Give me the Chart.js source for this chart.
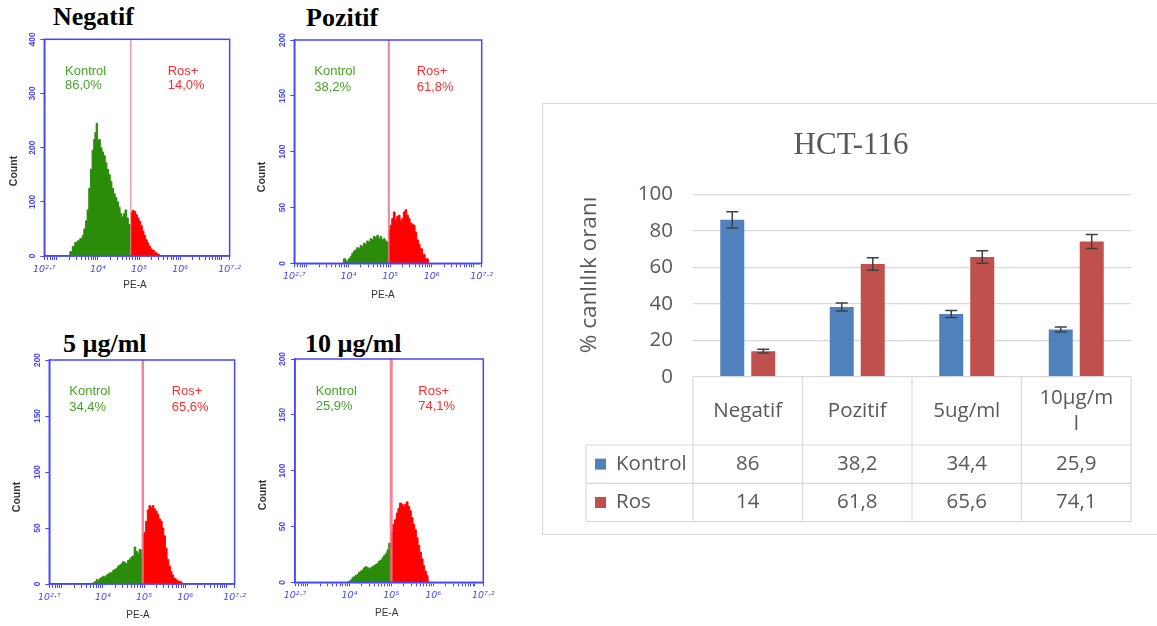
<!DOCTYPE html>
<html>
<head>
<meta charset="utf-8">
<script src="https://cdn.jsdelivr.net/npm/chart.js@4.4.1/dist/chart.umd.min.js"></script>
<style>
  body { margin: 0; background: #fff; width: 1157px; height: 626px; position: relative; overflow: hidden; }
  canvas { position: absolute; }
  .title { position: absolute; font: bold 26px "Liberation Serif", serif; line-height: 26px; color: #000; white-space: nowrap; }
  #panel { position: absolute; left: 542px; top: 103px; width: 700px; height: 432px; border: 1.5px solid #d9d9d9; box-sizing: border-box; }
</style>
</head>
<body>
<div class="title" style="left:53px;top:4px">Negatif</div>
<div class="title" style="left:306px;top:5px">Pozitif</div>
<div class="title" style="left:63px;top:331px">5 µg/ml</div>
<div class="title" style="left:305px;top:331px">10 µg/ml</div>
<div id="panel"></div>
<canvas id="h0"></canvas>
<canvas id="h1"></canvas>
<canvas id="h2"></canvas>
<canvas id="h3"></canvas>
<canvas id="bars"></canvas>
<script>
// ---- bar chart + table data ----
const categories = ['Negatif', 'Pozitif', '5ug/ml', ['10µg/m', 'l']];
const kontrolValues = [86, 38.2, 34.4, 25.9];
const rosValues = [14, 61.8, 65.6, 74.1];
const kontrolErrors = [4.5, 2.2, 1.9, 1.4];
const rosErrors = [1.0, 3.4, 3.4, 3.8];
const yTickValues = [0, 20, 40, 60, 80, 100];

// ---- flow histogram data ----
const panelNames = ['Negatif', 'Pozitif', '5 µg/ml', '10 µg/ml'];
const kontrolPercents = ['86,0%', '38,2%', '34,4%', '25,9%'];
const rosPercents = ['14,0%', '61,8%', '65,6%', '74,1%'];
const gateLogs = [4.8, 4.97, 4.97, 5.0];
const countMax = [400, 200, 200, 200];
const logLabelValues = [2.7, 4, 5, 6, 7.2];

// [log10 PE-A, count]
const negKontrol = [[3.28,0],[3.32,8],[3.38,18],[3.44,25],[3.50,28],[3.56,32],[3.62,38],[3.66,50],[3.70,65],[3.74,85],[3.78,125],[3.82,160],[3.86,195],[3.90,215],[3.93,228],[3.96,245],[3.99,212],[4.02,215],[4.06,200],[4.10,192],[4.14,185],[4.18,172],[4.22,160],[4.26,150],[4.30,138],[4.34,125],[4.38,115],[4.42,108],[4.46,100],[4.50,90],[4.54,78],[4.58,72],[4.62,78],[4.66,85],[4.70,70],[4.74,58],[4.78,52],[4.80,50]];
const negRos = [[4.80,80],[4.84,84],[4.88,82],[4.92,76],[4.96,70],[5.00,64],[5.04,56],[5.08,46],[5.12,38],[5.16,30],[5.20,24],[5.24,18],[5.28,13],[5.32,10],[5.38,6],[5.44,3],[5.50,0]];
const posKontrol = [[3.86,0],[3.88,4],[3.94,2],[4.00,4],[4.04,6],[4.08,9],[4.12,11],[4.16,12],[4.20,14],[4.24,13],[4.28,16],[4.32,15],[4.36,18],[4.40,17],[4.44,20],[4.48,19],[4.52,22],[4.56,21],[4.60,24],[4.64,23],[4.68,25],[4.72,22],[4.76,24],[4.80,21],[4.84,22],[4.88,20],[4.92,19],[4.97,18]];
const posRos = [[4.97,30],[5.00,34],[5.04,40],[5.08,46],[5.12,38],[5.16,42],[5.20,43],[5.24,38],[5.28,40],[5.32,46],[5.36,48],[5.40,43],[5.44,40],[5.48,36],[5.52,35],[5.56,34],[5.60,28],[5.64,21],[5.68,17],[5.72,13],[5.78,8],[5.84,4],[5.92,0]];
const fiveKontrol = [[3.70,0],[3.74,1],[3.80,2],[3.84,4],[3.88,3],[3.92,5],[3.96,6],[4.00,7],[4.04,6],[4.08,8],[4.12,9],[4.16,10],[4.20,10],[4.24,12],[4.28,13],[4.32,14],[4.36,16],[4.40,17],[4.44,18],[4.48,20],[4.52,19],[4.56,18],[4.60,21],[4.64,22],[4.68,24],[4.72,25],[4.76,33],[4.80,29],[4.84,27],[4.88,31],[4.92,30],[4.97,32]];
const fiveRos = [[4.97,44],[5.00,46],[5.04,56],[5.08,66],[5.12,70],[5.16,68],[5.20,70],[5.24,67],[5.28,65],[5.32,62],[5.36,58],[5.40,56],[5.44,50],[5.48,43],[5.52,32],[5.56,22],[5.60,16],[5.64,11],[5.68,8],[5.72,5],[5.78,3],[5.84,2],[5.92,0]];
const tenKontrol = [[3.95,0],[3.98,1],[4.02,2],[4.06,4],[4.10,5],[4.14,6],[4.18,7],[4.22,9],[4.26,10],[4.30,11],[4.34,13],[4.38,14],[4.42,13],[4.46,12],[4.50,13],[4.54,14],[4.58,15],[4.62,16],[4.66,17],[4.70,19],[4.74,20],[4.78,22],[4.82,24],[4.86,26],[4.90,29],[4.94,35],[5.00,30]];
const tenRos = [[5.00,45],[5.04,52],[5.08,56],[5.12,62],[5.16,66],[5.20,71],[5.24,70],[5.28,68],[5.32,70],[5.36,72],[5.40,68],[5.44,64],[5.48,58],[5.52,52],[5.56,47],[5.60,40],[5.64,33],[5.68,27],[5.72,21],[5.76,15],[5.80,10],[5.84,6],[5.88,1],[5.90,0]];

const kontrolHists = [negKontrol, posKontrol, fiveKontrol, tenKontrol];
const rosHists = [negRos, posRos, fiveRos, tenRos];

// layout of the four flow panels, page coordinates
const flowLayout = [
  { left: 0,   top: 30,  w: 245, h: 280, area: [44.3, 230.5, 39.3, 256],  count: [14, 171],    pea: [135, 285],   kx: 65,    rx: 167.7, ty: [71, 85],       gateWidth: 1.2 },
  { left: 245, top: 30,  w: 255, h: 280, area: [294.3, 481.7, 40, 263.3], count: [261.7, 177], pea: [383, 295],   kx: 314.3, rx: 416.7, ty: [71, 87],       gateWidth: 2 },
  { left: 0,   top: 340, w: 250, h: 286, area: [49.3, 236.7, 360, 584],   count: [16.7, 497],  pea: [138, 615],   kx: 69.3,  rx: 171.7, ty: [391.7, 407],   gateWidth: 2.5 },
  { left: 250, top: 340, w: 250, h: 286, area: [295, 483.3, 359, 582.3],  count: [263.3, 495], pea: [386.7, 613], kx: 315.7, rx: 418.3, ty: [391, 406],     gateWidth: 3 }
];

const BLUE = 'rgb(70,70,255)';
const SUP = { '0':'⁰','1':'¹','2':'²','3':'³','4':'⁴','5':'⁵','6':'⁶','7':'⁷','8':'⁸','9':'⁹','.':'·' };

// log tick positions (decade subdivisions) for the PE-A axis
const logTicks = [2.7];
for (let d = 2; d <= 7; d++) {
  for (let k = 1; k <= 9; k++) {
    const v = d + Math.log10(k);
    if (v > 2.7 && v < 7.2) logTicks.push(v);
  }
}
logTicks.push(7.2);

const flowPlugin = {
  id: 'flow',
  afterDatasetsDraw(chart, args, opts) {
    const { ctx, chartArea: a, scales: { x } } = chart;
    const L = opts.layout;
    ctx.save();
    // gate line
    const gx = x.getPixelForValue(opts.gate);
    ctx.strokeStyle = 'rgba(240,100,125,0.8)';
    ctx.lineWidth = L.gateWidth;
    ctx.beginPath(); ctx.moveTo(gx, a.top); ctx.lineTo(gx, a.bottom); ctx.stroke();
    // frame
    ctx.strokeStyle = BLUE;
    ctx.lineWidth = 1.5;
    ctx.strokeRect(a.left, a.top, a.right - a.left, a.bottom - a.top);
    // gate texts
    ctx.font = '13px "Liberation Sans"';
    ctx.textBaseline = 'middle';
    ctx.textAlign = 'left';
    ctx.fillStyle = 'rgb(70,165,40)';
    ctx.fillText('Kontrol', L.kx - L.left, L.ty[0] - L.top);
    ctx.fillText(opts.kontrolText, L.kx - L.left, L.ty[1] - L.top);
    ctx.fillStyle = 'rgb(255,45,45)';
    ctx.fillText('Ros+', L.rx - L.left, L.ty[0] - L.top);
    ctx.fillText(opts.rosText, L.rx - L.left, L.ty[1] - L.top);
    // axis titles
    ctx.fillStyle = '#333';
    ctx.textAlign = 'center';
    ctx.font = '10px "Liberation Sans"';
    ctx.fillText('PE-A', L.pea[0] - L.left, L.pea[1] - L.top);
    ctx.save();
    ctx.translate(L.count[0] - L.left, L.count[1] - L.top);
    ctx.rotate(-Math.PI / 2);
    ctx.font = 'bold 10.5px "Liberation Sans"';
    ctx.fillText('Count', 0, 0);
    ctx.restore();
    ctx.restore();
  }
};

function toPoints(pairs) {
  return pairs.map(p => ({ x: p[0], y: p[1] }));
}

flowLayout.forEach((L, i) => {
  const cv = document.getElementById('h' + i);
  cv.width = L.w; cv.height = L.h;
  cv.style.left = L.left + 'px'; cv.style.top = L.top + 'px';
  const areaL = L.area[0] - L.left, areaR = L.area[1] - L.left;
  const areaT = L.area[2] - L.top, areaB = L.area[3] - L.top;
  new Chart(cv, {
    type: 'line',
    data: {
      datasets: [
        { data: toPoints(kontrolHists[i]), fill: 'origin', backgroundColor: 'rgb(42,140,8)', borderColor: 'rgb(42,140,8)', borderWidth: 1, pointRadius: 0, stepped: true },
        { data: toPoints(rosHists[i]), fill: 'origin', backgroundColor: 'rgb(255,0,0)', borderColor: 'rgb(255,0,0)', borderWidth: 1, pointRadius: 0, stepped: true }
      ]
    },
    options: {
      responsive: false,
      animation: false,
      devicePixelRatio: 1,
      layout: { padding: { left: 0, top: areaT, right: L.w - areaR, bottom: 0 } },
      plugins: {
        legend: { display: false },
        tooltip: { enabled: false },
        flow: { layout: L, gate: gateLogs[i], kontrolText: kontrolPercents[i], rosText: rosPercents[i] }
      },
      scales: {
        x: {
          type: 'linear', min: 2.7, max: 7.2,
          afterBuildTicks: s => { s.ticks = logTicks.map(v => ({ value: v })); },
          afterFit: s => { s.height = L.h - areaB; },
          ticks: {
            autoSkip: false, maxRotation: 0, padding: 4, color: BLUE,
            font: { family: 'DejaVu Sans', size: 9.5, style: 'italic' },
            callback: v => {
              const hit = logLabelValues.find(m => Math.abs(m - v) < 1e-6);
              if (hit === undefined) return '';
              return '10' + String(hit).split('').map(c => SUP[c]).join('');
            }
          },
          grid: { drawOnChartArea: false, drawTicks: true, tickLength: 4, color: BLUE },
          border: { color: BLUE, width: 1.5 }
        },
        y: {
          min: 0, max: countMax[i],
          afterFit: s => { s.width = areaL; },
          ticks: {
            stepSize: countMax[i] / 4, minRotation: 90, maxRotation: 90, crossAlign: 'center',
            padding: 1, color: BLUE, font: { family: 'Liberation Sans', size: 8.5, weight: 'bold' }
          },
          grid: { drawOnChartArea: false, drawTicks: true, tickLength: 4, color: BLUE },
          border: { color: BLUE, width: 1.5 }
        }
      }
    },
    plugins: [flowPlugin]
  });
});

// ---- HCT-116 bar chart with data table ----
const BAR_LEFT = 541, BAR_TOP = 103, BAR_W = 608, BAR_H = 431;
const GREY = '#595959';
const FONT = '"Open Sans", sans-serif';

const excelPlugin = {
  id: 'excel',
  afterDatasetsDraw(chart) {
    const { ctx, scales: { y } } = chart;
    const errs = [kontrolErrors, rosErrors];
    const vals = [kontrolValues, rosValues];
    ctx.save();
    ctx.strokeStyle = '#404040';
    ctx.lineWidth = 1.5;
    [0, 1].forEach(d => {
      chart.getDatasetMeta(d).data.forEach((bar, j) => {
        const top = y.getPixelForValue(vals[d][j] + errs[d][j]);
        const bot = y.getPixelForValue(vals[d][j] - errs[d][j]);
        ctx.beginPath();
        ctx.moveTo(bar.x, top); ctx.lineTo(bar.x, bot);
        ctx.moveTo(bar.x - 6, top); ctx.lineTo(bar.x + 6, top);
        ctx.moveTo(bar.x - 6, bot); ctx.lineTo(bar.x + 6, bot);
        ctx.stroke();
      });
    });
    ctx.restore();
  },
  afterDraw(chart) {
    const { ctx, chartArea: a, scales: { x } } = chart;
    ctx.save();
    // title
    ctx.fillStyle = GREY;
    ctx.font = '31px "Liberation Serif", serif';
    ctx.textAlign = 'center';
    ctx.textBaseline = 'alphabetic';
    ctx.fillText('HCT-116', 310, 51);
    // y axis title
    ctx.save();
    ctx.translate(49, 172);
    ctx.rotate(-Math.PI / 2);
    ctx.font = '22.5px ' + FONT;
    ctx.textBaseline = 'middle';
    ctx.fillText('% canlılık oranı', 0, 0);
    ctx.restore();

    // data table
    const n = categories.length;
    const cw = (a.right - a.left) / n;
    const rowTops = [a.bottom, 342, 380.3, 418.7];
    const legendLeft = 45;
    ctx.strokeStyle = '#d9d9d9';
    ctx.lineWidth = 1.2;
    ctx.beginPath();
    for (let i = 0; i <= n; i++) {
      const cx = x.getPixelForValue(i) - cw / 2;
      ctx.moveTo(cx, rowTops[0]); ctx.lineTo(cx, rowTops[3]);
    }
    ctx.moveTo(legendLeft, rowTops[1]); ctx.lineTo(legendLeft, rowTops[3]);
    [1, 2, 3].forEach(r => { ctx.moveTo(legendLeft, rowTops[r]); ctx.lineTo(a.right, rowTops[r]); });
    ctx.stroke();

    ctx.fillStyle = GREY;
    ctx.font = '20.5px ' + FONT;
    ctx.textAlign = 'center';
    ctx.textBaseline = 'middle';
    const headMid = (rowTops[0] + rowTops[1]) / 2;
    categories.forEach((c, i) => {
      const cx = x.getPixelForValue(i);
      if (Array.isArray(c)) {
        ctx.fillText(c[0], cx, headMid - 13);
        ctx.fillText(c[1], cx, headMid + 13);
      } else {
        ctx.fillText(c, cx, headMid);
      }
      ctx.fillText(String(kontrolValues[i]).replace('.', ','), cx, (rowTops[1] + rowTops[2]) / 2);
      ctx.fillText(String(rosValues[i]).replace('.', ','), cx, (rowTops[2] + rowTops[3]) / 2);
    });
    // legend keys
    chart.data.datasets.forEach((ds, d) => {
      const mid = (rowTops[1 + d] + rowTops[2 + d]) / 2;
      ctx.fillStyle = ds.backgroundColor;
      ctx.fillRect(legendLeft + 9, mid - 5.5, 11, 11);
      ctx.fillStyle = GREY;
      ctx.textAlign = 'left';
      ctx.fillText(ds.label, legendLeft + 30, mid);
    });
    ctx.restore();
  }
};

const barCanvas = document.getElementById('bars');
barCanvas.width = BAR_W; barCanvas.height = BAR_H;
barCanvas.style.left = BAR_LEFT + 'px'; barCanvas.style.top = BAR_TOP + 'px';

new Chart(barCanvas, {
  type: 'bar',
  data: {
    labels: categories,
    datasets: [
      { label: 'Kontrol', data: kontrolValues, backgroundColor: '#4f81bd', categoryPercentage: 0.566, barPercentage: 0.774 },
      { label: 'Ros', data: rosValues, backgroundColor: '#c0504d', categoryPercentage: 0.566, barPercentage: 0.774 }
    ]
  },
  options: {
    responsive: false,
    animation: false,
    devicePixelRatio: 1,
    layout: { padding: { left: 0, top: 91.3, right: 18, bottom: 157.3 } },
    plugins: { legend: { display: false }, tooltip: { enabled: false } },
    scales: {
      x: { display: false, afterFit: s => { s.height = 0; } },
      y: {
        min: 0, max: 100,
        afterBuildTicks: s => { s.ticks = yTickValues.map(v => ({ value: v })); },
        afterFit: s => { s.width = 152; },
        ticks: { padding: 20, color: GREY, font: { family: 'Open Sans', size: 20.5 } },
        grid: { color: '#d9d9d9', lineWidth: 1.2, drawTicks: false },
        border: { display: false }
      }
    }
  },
  plugins: [excelPlugin]
});
</script>
</body>
</html>
